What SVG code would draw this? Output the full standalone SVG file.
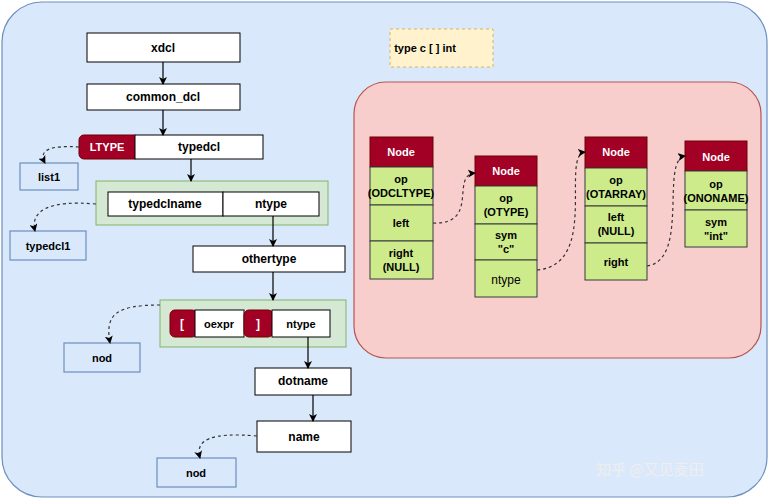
<svg xmlns="http://www.w3.org/2000/svg" width="769" height="500" viewBox="0 0 769 500">
<defs>
<marker id="ah" markerWidth="8" markerHeight="8" refX="7" refY="4" orient="auto" markerUnits="userSpaceOnUse"><path d="M0,0 L8,4 L0,8 L2,4 Z" fill="#000"/></marker>
<style>
text{font-family:"Liberation Sans",Arial,sans-serif;font-weight:bold;font-size:12px;text-anchor:middle;dominant-baseline:central;fill:#000}
.w{fill:#fff;stroke:#000;stroke-width:1}
.r{fill:#a20025;stroke:#6f0000;stroke-width:1}
.g{fill:#cdeb8b;stroke:#36393d;stroke-width:1}
.gc{fill:#d5e8d4;stroke:#82b366;stroke-width:1}
.b{fill:#dae8fc;stroke:#6c8ebf;stroke-width:1.2}
.wt{fill:#fff}
.ln{fill:none;stroke:#000;stroke-width:1.2;marker-end:url(#ah)}
.d{fill:none;stroke:#333;stroke-width:1.2;stroke-dasharray:3 3;marker-end:url(#ah)}
</style>
</defs>
<rect x="2" y="2" width="765" height="495" rx="40" fill="#dae8fc" stroke="#6c8ebf" stroke-width="1.2"/>
<g id="note"><rect x="390" y="29" width="103" height="38" fill="#fff2cc" stroke="#d6b656" stroke-dasharray="3 3"/><text x="425" y="48" style="font-size:11px">type c [ ] int</text></g>
<g id="pink"><rect x="354" y="82" width="407" height="276" rx="32" fill="#f8cecc" stroke="#b85450" stroke-width="1.2"/></g>
<g id="xdcl"><rect class="w" x="87" y="33" width="153" height="29"/><text x="163" y="48">xdcl</text></g>
<g id="common_dcl"><rect class="w" x="87" y="84" width="153" height="26"/><text x="163" y="97">common_dcl</text></g>
<g id="typedcl"><rect class="r" x="79" y="135" width="60" height="24" rx="5"/><rect class="w" x="135" y="135" width="128" height="24"/><text class="wt" x="107" y="147" style="font-size:11px">LTYPE</text><text x="199" y="147">typedcl</text></g>
<g id="list1"><rect class="b" x="20" y="163" width="58" height="27"/><text x="49" y="177" style="font-size:11px">list1</text></g>
<g id="g1"><rect class="gc" x="96" y="181" width="232" height="44"/><rect class="w" x="108" y="192" width="115" height="24"/><rect class="w" x="223" y="192" width="96" height="24"/><text x="165" y="204">typedclname</text><text x="271" y="204">ntype</text></g>
<g id="typedcl1"><rect class="b" x="10" y="231" width="76" height="29"/><text x="48" y="246" style="font-size:11px">typedcl1</text></g>
<g id="othertype"><rect class="w" x="193" y="246" width="152" height="26"/><text x="269" y="259">othertype</text></g>
<g id="g2"><rect class="gc" x="160" y="300" width="186" height="47"/><rect class="r" x="170" y="310" width="27" height="27" rx="5"/><rect class="w" x="195" y="310" width="49" height="27"/><rect class="r" x="244" y="310" width="29" height="27" rx="5"/><rect class="w" x="272" y="310" width="58" height="27"/><text class="wt" x="182" y="324">[</text><text x="219" y="324" style="font-size:11px">oexpr</text><text class="wt" x="258" y="324">]</text><text x="301" y="324" style="font-size:11px">ntype</text></g>
<g id="nod1"><rect class="b" x="64" y="343" width="76" height="29"/><text x="102" y="358" style="font-size:11px">nod</text></g>
<g id="dotname"><rect class="w" x="255" y="368" width="96" height="27"/><text x="303" y="381">dotname</text></g>
<g id="name"><rect class="w" x="257" y="421" width="94" height="31"/><text x="304" y="437">name</text></g>
<g id="nod2"><rect class="b" x="157" y="458" width="79" height="29"/><text x="196" y="473" style="font-size:11px">nod</text></g>
<g id="n1" style="font-size:11px"><rect class="r" x="370" y="137" width="63" height="30"/><text class="wt" x="401" y="152" style="font-size:11px">Node</text><rect class="g" x="370" y="167" width="63" height="38"/><text x="401" y="179" style="font-size:11px">op</text><text x="401" y="193" style="font-size:11px">(ODCLTYPE)</text><rect class="g" x="370" y="205" width="63" height="36"/><text x="401" y="223" style="font-size:11px">left</text><rect class="g" x="370" y="241" width="63" height="38"/><text x="401" y="253" style="font-size:11px">right</text><text x="401" y="267" style="font-size:11px">(NULL)</text></g>
<g id="n2"><rect class="r" x="475" y="156" width="62" height="30"/><text class="wt" x="506" y="171" style="font-size:11px">Node</text><rect class="g" x="475" y="186" width="62" height="38"/><text x="506" y="198" style="font-size:11px">op</text><text x="506" y="212" style="font-size:11px">(OTYPE)</text><rect class="g" x="475" y="224" width="62" height="36"/><text x="506" y="235" style="font-size:11px">sym</text><text x="506" y="249" style="font-size:11px">"c"</text><rect class="g" x="475" y="260" width="62" height="37"/><text x="506" y="280" style="font-size:12px;font-weight:normal">ntype</text></g>
<g id="n3"><rect class="r" x="585" y="137" width="62" height="31"/><text class="wt" x="616" y="152" style="font-size:11px">Node</text><rect class="g" x="585" y="168" width="62" height="38"/><text x="616" y="180" style="font-size:11px">op</text><text x="616" y="194" style="font-size:11px">(OTARRAY)</text><rect class="g" x="585" y="206" width="62" height="37"/><text x="616" y="217" style="font-size:11px">left</text><text x="616" y="231" style="font-size:11px">(NULL)</text><rect class="g" x="585" y="243" width="62" height="37"/><text x="616" y="262" style="font-size:11px">right</text></g>
<g id="n4"><rect class="r" x="685" y="141" width="62" height="30"/><text class="wt" x="716" y="157" style="font-size:11px">Node</text><rect class="g" x="685" y="171" width="62" height="39"/><text x="716" y="184" style="font-size:11px">op</text><text x="716" y="198" style="font-size:11px">(ONONAME)</text><rect class="g" x="685" y="210" width="62" height="37"/><text x="716" y="222" style="font-size:11px">sym</text><text x="716" y="236" style="font-size:11px">"int"</text></g>
<g id="connectors">
<path class="ln" d="M163,62 V84"/>
<path class="ln" d="M163,110 V135"/>
<path class="ln" d="M191,159 V181"/>
<path class="ln" d="M273,216 V246"/>
<path class="ln" d="M273,272 V300"/>
<path class="ln" d="M308,337 V368"/>
<path class="ln" d="M313,395 V421"/>
<path class="d" d="M79,147 C50,145 38,150 45,163"/>
<path class="d" d="M96,204 C50,200 30,210 35,231"/>
<path class="d" d="M160,305 C115,305 105,315 110,343"/>
<path class="d" d="M257,436 C210,432 195,440 200,458"/>
<path class="d" d="M433,223 C480,225 450,175 475,173"/>
<path class="d" d="M537,270 C600,265 560,155 585,152"/>
<path class="d" d="M647,266 C690,260 660,160 685,156"/>
</g>
<text x="650" y="468" style="font-size:15px;font-weight:normal;fill:#eeeeee;font-family:'Noto Sans CJK SC',sans-serif">知乎 @又见麦田</text>
</svg>
